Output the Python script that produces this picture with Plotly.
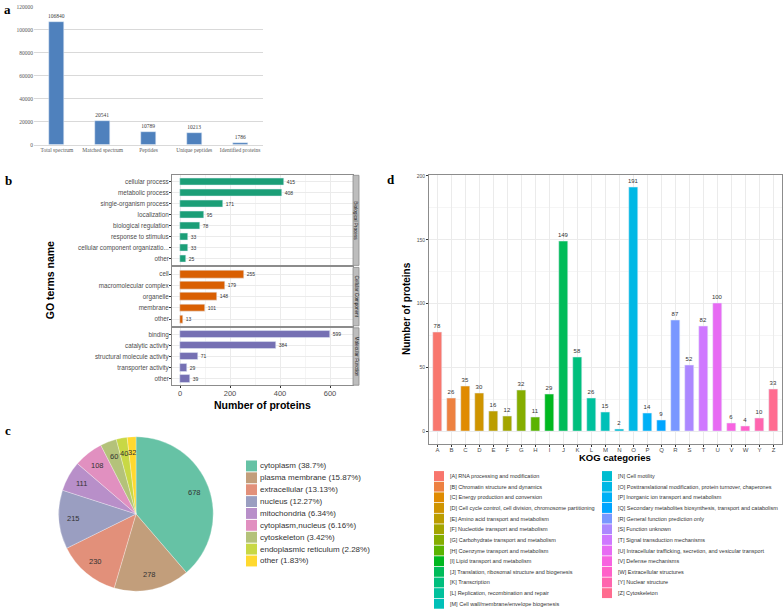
import math
import plotly.graph_objects as go

W, H = 784, 614

# ---------------- data ----------------
# panel a
a_cats = ["Total spectrum", "Matched spectrum", "Peptides", "Unique peptides", "Identified proteins"]
a_vals = [106840, 20541, 10789, 10213, 1786]

# panel b (GO)
bp_terms = ["cellular process", "metabolic process", "single-organism process", "localization",
            "biological regulation", "response to stimulus", "cellular component organizatio...", "other"]
bp_vals = [415, 408, 171, 95, 78, 33, 33, 25]
cc_terms = ["cell", "macromolecular complex", "organelle", "membrane", "other"]
cc_vals = [255, 179, 148, 101, 13]
mf_terms = ["binding", "catalytic activity", "structural molecule activity", "transporter activity", "other"]
mf_vals = [599, 384, 71, 29, 39]
facet_names = ["Biological Process", "Cellular Component", "Molecular Function"]
x_ticks_b = [0, 200, 400, 600]

# panel c (subcellular localisation)
loc_names = ["cytoplasm", "plasma membrane", "extracellular", "nucleus", "mitochondria",
             "cytoplasm,nucleus", "cytoskeleton", "endoplasmic reticulum", "other"]
loc_vals = [678, 278, 230, 215, 111, 108, 60, 40, 32]
loc_pcts = ["38.7%", "15.87%", "13.13%", "12.27%", "6.34%", "6.16%", "3.42%", "2.28%", "1.83%"]

# panel d (KOG)
kog_codes = ["A", "B", "C", "D", "E", "F", "G", "H", "I", "J", "K", "L", "M",
             "N", "O", "P", "Q", "R", "S", "T", "U", "V", "W", "Y", "Z"]
kog_vals = [78, 26, 35, 30, 16, 12, 32, 11, 29, 149, 58, 26, 15,
            2, 191, 14, 9, 87, 52, 82, 100, 6, 4, 10, 33]
kog_desc = ["RNA processing and modification",
            "Chromatin structure and dynamics",
            "Energy production and conversion",
            "Cell cycle control, cell division, chromosome partitioning",
            "Amino acid transport and metabolism",
            "Nucleotide transport and metabolism",
            "Carbohydrate transport and metabolism",
            "Coenzyme transport and metabolism",
            "Lipid transport and metabolism",
            "Translation, ribosomal structure and biogenesis",
            "Transcription",
            "Replication, recombination and repair",
            "Cell wall/membrane/envelope biogenesis",
            "Cell motility",
            "Posttranslational modification, protein turnover, chaperones",
            "Inorganic ion transport and metabolism",
            "Secondary metabolites biosynthesis, transport and catabolism",
            "General function prediction only",
            "Function unknown",
            "Signal transduction mechanisms",
            "Intracellular trafficking, secretion, and vesicular transport",
            "Defense mechanisms",
            "Extracellular structures",
            "Nuclear structure",
            "Cytoskeleton"]

# ---------------- styles ----------------
SERIF = "Liberation Serif, Times New Roman, serif"
SANS = "Liberation Sans, Arial, sans-serif"
GO_COLORS = ["#1B9E77", "#D95F02", "#7570B3"]
PIE_COLORS = ["#66C2A5", "#C29E7B", "#E2907A", "#9A9EC1", "#B88FC9",
              "#E190C0", "#B4C27A", "#C8D845", "#FFD92F"]
GRID = "#EBEBEB"
MINOR = "#F5F5F5"
BORDER = "#8C8C8C"
TICKTXT = "#4D4D4D"


def hcl_hex(h, c=100.0, l=65.0):
    hr = math.radians(h)
    U, V = c * math.cos(hr), c * math.sin(hr)
    Yv = ((l + 16) / 116) ** 3
    u = U / (13 * l) + 0.1978398
    v = V / (13 * l) + 0.4683363
    Xv = 9.0 * Yv * u / (4 * v)
    Zv = -Xv / 3 - 5 * Yv + 3 * Yv / v

    def g(t):
        t = 1.055 * t ** (1 / 2.4) - 0.055 if t > 0.00304 else 12.92 * t
        return int(round(min(max(t, 0.0), 1.0) * 255))
    r = g(3.240479 * Xv - 1.537150 * Yv - 0.498535 * Zv)
    gg = g(-0.969256 * Xv + 1.875992 * Yv + 0.041556 * Zv)
    b = g(0.055648 * Xv - 0.204043 * Yv + 1.057311 * Zv)
    return "#%02X%02X%02X" % (r, gg, b)


n_kog = len(kog_codes)
KOG_COLORS = [hcl_hex(15 + i * (360 - 360 / n_kog) / (n_kog - 1)) for i in range(n_kog)]


def X(px):
    return px / W


def Y(py):
    return 1 - py / H


fig = go.Figure()
annotations = []
shapes = []

# ---------------- panel a ----------------
fig.add_trace(go.Bar(x=a_cats, y=a_vals, marker_color="#4F81BD", width=0.33,
                     text=[str(v) for v in a_vals], textposition="outside",
                     textfont=dict(family=SERIF, size=5.5, color="#404040"),
                     constraintext="none", cliponaxis=False,
                     xaxis="x", yaxis="y", hoverinfo="x+y"))

# ---------------- panel b ----------------
facet_data = [(bp_terms, bp_vals), (cc_terms, cc_vals), (mf_terms, mf_vals)]
facet_ydom = [(174, 265), (267, 326), (328, 386)]
for i, (terms, vals) in enumerate(facet_data):
    k = i + 2
    fig.add_trace(go.Bar(y=terms, x=vals, orientation="h", marker_color=GO_COLORS[i], width=0.68,
                         text=[str(v) for v in vals], textposition="outside",
                         textfont=dict(family=SANS, size=5, color="#333333"),
                         constraintext="none", cliponaxis=False,
                         xaxis="x%d" % k, yaxis="y%d" % k, hoverinfo="x+y"))

# ---------------- panel c ----------------
cx, cy, r = 136, 516, 78
fig.add_trace(go.Pie(values=loc_vals, labels=loc_names, sort=False, direction="clockwise",
                     rotation=0, marker=dict(colors=PIE_COLORS, line=dict(color="white", width=0.3)),
                     textinfo="none", showlegend=False, hoverinfo="label+value+percent",
                     domain=dict(x=[X(cx - r), X(cx + r)], y=[Y(cy + r), Y(cy - r)])))
tot = sum(loc_vals)
cum = 0
for name, v in zip(loc_names, loc_vals):
    th = 2 * math.pi * (cum + v / 2) / tot
    cum += v
    px = cx + 0.8 * r * math.sin(th)
    py = cy - 0.8 * r * math.cos(th)
    annotations.append(dict(x=X(px), y=Y(py), text=str(v), xanchor="center",
                            font=dict(family=SANS, size=7.5, color="#333333")))
# legend for pie
for i, (name, pct) in enumerate(zip(loc_names, loc_pcts)):
    yc = 467.5 + 12 * i
    shapes.append(dict(type="rect", xref="paper", yref="paper", x0=X(246), x1=X(257),
                       y0=Y(yc + 5.5), y1=Y(yc - 5.5), fillcolor=PIE_COLORS[i],
                       line=dict(width=0)))
    annotations.append(dict(x=X(258), y=Y(yc), text="%s (%s)" % (name, pct), xanchor="left",
                            font=dict(family=SANS, size=8, color="#333333")))

# ---------------- panel d ----------------
fig.add_trace(go.Bar(x=kog_codes, y=kog_vals, marker_color=KOG_COLORS, width=0.68,
                     text=[str(v) for v in kog_vals], textposition="outside",
                     textfont=dict(family=SANS, size=6, color="#333333"),
                     constraintext="none", cliponaxis=False,
                     xaxis="x5", yaxis="y5", hoverinfo="x+y"))
n_left = 13
for i, (code, desc) in enumerate(zip(kog_codes, kog_desc)):
    col = 0 if i < n_left else 1
    row = i if i < n_left else i - n_left
    yc = 477.7 + 10.75 * row
    bx = 434 if col == 0 else 602
    shapes.append(dict(type="rect", xref="paper", yref="paper", x0=X(bx), x1=X(bx + 10),
                       y0=Y(yc + 5), y1=Y(yc - 5), fillcolor=KOG_COLORS[i], line=dict(width=0)))
    annotations.append(dict(x=X(bx + 14), y=Y(yc), text="[%s] %s" % (code, desc), xanchor="left",
                            font=dict(family=SANS, size=5.5, color="#333333")))

# ---------------- strips for panel b ----------------
for (t, b), name in zip(facet_ydom, facet_names):
    shapes.append(dict(type="rect", xref="paper", yref="paper", x0=X(353), x1=X(359),
                       y0=Y(b), y1=Y(t), fillcolor="#BDBDBD", line=dict(color=BORDER, width=0.8)))
    annotations.append(dict(x=X(356), y=Y((t + b) / 2), text=name, textangle=90, xanchor="center",
                            font=dict(family=SANS, size=4.7, color="#1A1A1A")))

# ---------------- titles & panel letters ----------------
annotations += [
    dict(x=X(262), y=Y(406), text="<b>Number of proteins</b>", xanchor="center",
         font=dict(family=SANS, size=10.5, color="black")),
    dict(x=X(50), y=Y(280), text="<b>GO terms name</b>", textangle=-90, xanchor="center",
         font=dict(family=SANS, size=10.5, color="black")),
    dict(x=X(615), y=Y(459), text="<b>KOG categories</b>", xanchor="center",
         font=dict(family=SANS, size=9.5, color="black")),
    dict(x=X(407), y=Y(309), text="<b>Number of proteins</b>", textangle=-90, xanchor="center",
         font=dict(family=SANS, size=10, color="black")),
]
for lt, (lx, ly) in zip(["a", "b", "c", "d"], [(2, 7), (3, 179), (3, 432), (385, 178)]):
    annotations.append(dict(x=X(lx), y=Y(ly), text="<b>%s</b>" % lt, xanchor="left",
                            font=dict(family=SERIF, size=13, color="black")))
for a in annotations:
    a["xref"] = "paper"
    a["yref"] = "paper"
    a["showarrow"] = False
    a["yanchor"] = "middle"

# ---------------- layout ----------------
layout = dict(
    width=W, height=H, margin=dict(l=0, r=0, t=0, b=0),
    paper_bgcolor="white", plot_bgcolor="white", showlegend=False,
    bargap=0, annotations=annotations, shapes=shapes,
    xaxis=dict(domain=[X(34), X(263)], anchor="y", showline=True, linecolor="#D9D9D9",
               ticks="", tickfont=dict(family=SERIF, size=5.5, color="#595959"),
               showgrid=False, fixedrange=True),
    yaxis=dict(domain=[Y(143), Y(4)], anchor="x", range=[0, 120000], dtick=20000,
               tickformat="d", showgrid=True, gridcolor="#D9D9D9", zeroline=False,
               showline=False, tickfont=dict(family=SERIF, size=5.5, color="#595959")),
)
for i, (terms, vals) in enumerate(facet_data):
    k = i + 2
    t, b = facet_ydom[i]
    layout["xaxis%d" % k] = dict(domain=[X(172), X(353)], anchor="y%d" % k, range=[-32, 692],
                                 tickvals=x_ticks_b, showticklabels=(i == 2),
                                 ticks="outside" if i == 2 else "", ticklen=2, tickcolor="#333333",
                                 tickfont=dict(family=SANS, size=7.5, color=TICKTXT),
                                 ticklabelstandoff=-1,
                                 showgrid=True, gridcolor=GRID, gridwidth=0.8,
                                 minor=dict(dtick=100, tick0=0, showgrid=True, gridcolor=MINOR, gridwidth=0.5),
                                 zeroline=False, showline=True, mirror=True, linecolor=BORDER, linewidth=1)
    layout["yaxis%d" % k] = dict(domain=[Y(b), Y(t)], anchor="x%d" % k, type="category",
                                 categoryorder="array", categoryarray=terms,
                                 range=[len(terms) - 0.4, -0.6],
                                 ticks="outside", ticklen=2, tickcolor="#333333",
                                 tickfont=dict(family=SANS, size=6.3, color=TICKTXT),
                                 ticklabelstandoff=-1,
                                 showgrid=True, gridcolor=GRID, gridwidth=0.8,
                                 zeroline=False, showline=True, mirror=True, linecolor=BORDER, linewidth=1)
layout["xaxis5"] = dict(domain=[X(429), X(782)], anchor="y5", type="category",
                        range=[-0.6, n_kog - 0.4], ticks="outside", ticklen=2, tickcolor="#333333",
                        tickfont=dict(family=SANS, size=6, color=TICKTXT),
                        ticklabelstandoff=-2,
                        showgrid=True, gridcolor=GRID, gridwidth=0.8,
                        showline=True, mirror=True, linecolor=BORDER, linewidth=1)
layout["yaxis5"] = dict(domain=[Y(445), Y(174)], anchor="x5", range=[-9.55, 200.55],
                        tickvals=[0, 50, 100, 150, 200], ticks="outside", ticklen=2, tickcolor="#333333",
                        tickfont=dict(family=SANS, size=5, color=TICKTXT),
                        showgrid=True, gridcolor=GRID, gridwidth=0.8,
                        minor=dict(dtick=25, tick0=0, showgrid=True, gridcolor=MINOR, gridwidth=0.5),
                        zeroline=False, showline=True, mirror=True, linecolor=BORDER, linewidth=1)

fig.update_layout(**layout)
fig.write_html("out.html", config={"displayModeBar": False},
               post_script="document.body.style.margin='0';document.body.style.overflow='hidden';")
